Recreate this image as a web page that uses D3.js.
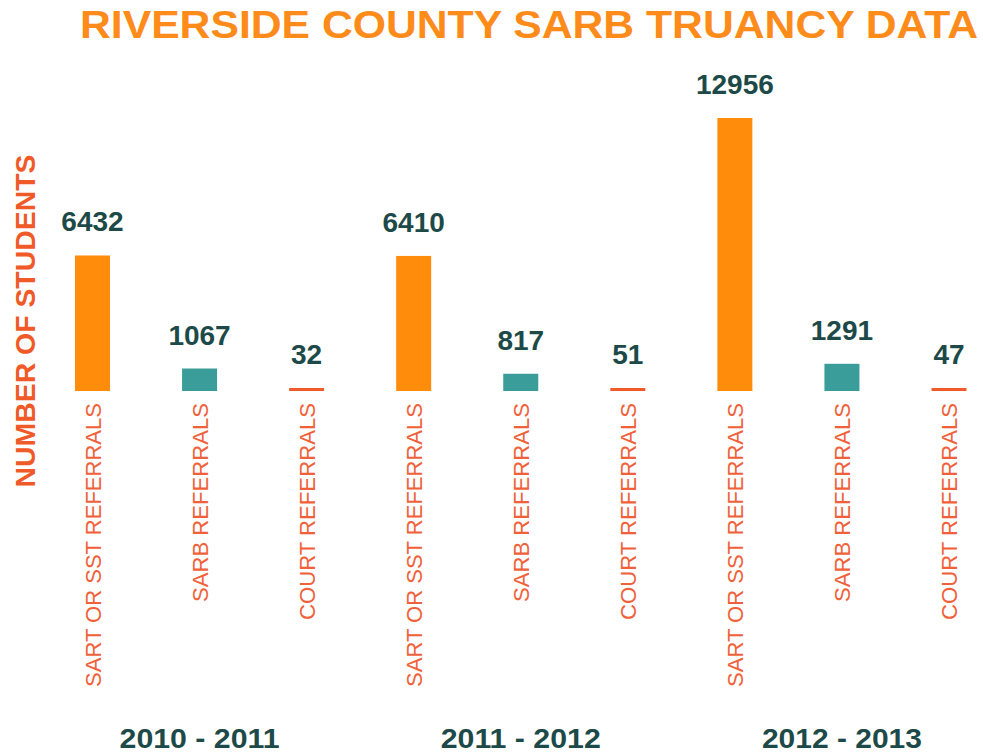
<!DOCTYPE html>
<html><head><meta charset="utf-8">
<script src="https://cdn.jsdelivr.net/npm/d3@7/dist/d3.min.js"></script>
<style>body{margin:0;background:#fff}svg{display:block}</style>
</head><body>
<script>
const title = "RIVERSIDE COUNTY SARB TRUANCY DATA";
const yTitle = "NUMBER OF STUDENTS";
const years = ["2010 - 2011", "2011 - 2012", "2012 - 2013"];
const categories = ["SART OR SST REFERRALS", "SARB REFERRALS", "COURT REFERRALS"];
const sartValues = [6432, 6410, 12956];
const sarbValues = [1067, 817, 1291];
const courtValues = [32, 51, 47];
const catColors = ["#FF8C0A", "#3A9D99", "#F15A2B"];

const W = 983, H = 755;
const svg = d3.select("body").append("svg").attr("width", W).attr("height", H);

const seriesVals = [sartValues, sarbValues, courtValues];
const data = [];
years.forEach((yr, gi) => {
  categories.forEach((c, ci) => {
    data.push({key: gi + "-" + ci, year: yr, cat: c, ci, value: seriesVals[ci][gi]});
  });
});

const x = d3.scalePoint().domain(data.map(d => d.key)).range([92.5, 949]);
const y = d3.scaleLinear().domain([0, 12956]).range([391, 118]);
const barW = 35;
const minH = 3;

// title
svg.append("text").attr("x", 529).attr("y", 38).attr("text-anchor", "middle")
  .attr("font-family", "Liberation Sans, Arial, sans-serif").attr("font-weight", "bold")
  .attr("font-size", 39).attr("fill", "#FF8C1A")
  .attr("textLength", 898).attr("lengthAdjust", "spacingAndGlyphs").text(title);

// y title
svg.append("text").attr("transform", "translate(35,321) rotate(-90)").attr("text-anchor", "middle")
  .attr("font-family", "Liberation Sans, Arial, sans-serif").attr("font-weight", "bold")
  .attr("font-size", 27).attr("fill", "#F05A28")
  .attr("textLength", 333).attr("lengthAdjust", "spacingAndGlyphs").text(yTitle);

// bars
svg.selectAll("rect.bar").data(data).join("rect").attr("class", "bar")
  .attr("x", d => x(d.key) - barW / 2)
  .attr("width", barW)
  .attr("y", d => Math.min(y(d.value), y(0) - minH))
  .attr("height", d => Math.max(y(0) - y(d.value), minH))
  .attr("fill", d => catColors[d.ci]);

// value labels
svg.selectAll("text.val").data(data).join("text").attr("class", "val")
  .attr("x", d => x(d.key))
  .attr("y", d => Math.min(y(d.value), y(0) - minH) - 24)
  .attr("text-anchor", "middle")
  .attr("font-family", "Liberation Sans, Arial, sans-serif").attr("font-weight", "bold")
  .attr("font-size", 28).attr("fill", "#1D4A48")
  .text(d => d.value);

// category labels (rotated)
const catLen = {"SART OR SST REFERRALS": 284, "SARB REFERRALS": 199, "COURT REFERRALS": 217};
svg.selectAll("text.cat").data(data).join("text").attr("class", "cat")
  .attr("transform", d => `translate(${x(d.key) + 8},403) rotate(-90)`)
  .attr("text-anchor", "end")
  .attr("font-family", "Liberation Sans, Arial, sans-serif")
  .attr("font-size", 22).attr("fill", "#F0613A")
  .attr("textLength", d => catLen[d.cat]).attr("lengthAdjust", "spacingAndGlyphs")
  .text(d => d.cat);

// year labels
svg.selectAll("text.year").data(years).join("text").attr("class", "year")
  .attr("x", (d, i) => x(i + "-1"))
  .attr("y", 748)
  .attr("text-anchor", "middle")
  .attr("font-family", "Liberation Sans, Arial, sans-serif").attr("font-weight", "bold")
  .attr("font-size", 28).attr("fill", "#1D4A48")
  .attr("textLength", 160).attr("lengthAdjust", "spacingAndGlyphs")
  .text(d => d);
</script>
</body></html>
